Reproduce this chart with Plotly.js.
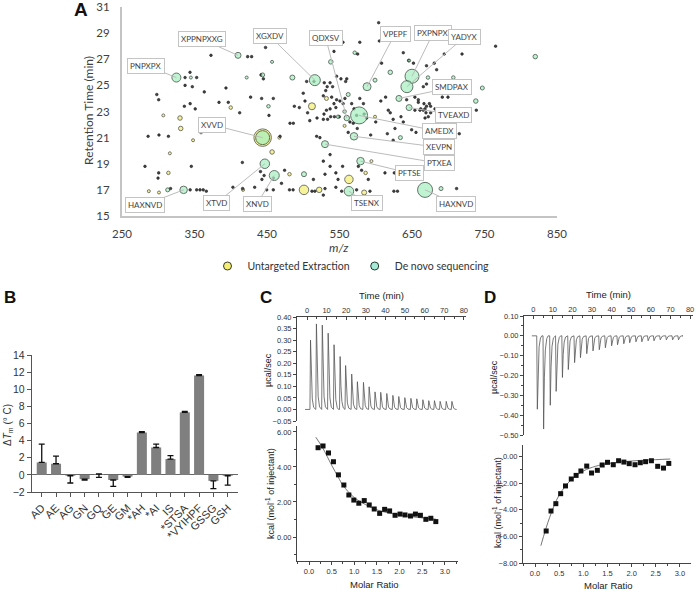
<!DOCTYPE html>
<html>
<head>
<meta charset="utf-8">
<script src="https://cdn.plot.ly/plotly-3.0.1.min.js"></script>
<style>
  html, body { margin: 0; padding: 0; background: #fff; }
  #chart { width: 696px; height: 596px; }
</style>
</head>
<body>
<div id="chart"></div>
<script>
// ---- panel A: retention time vs m/z ----
var untargetedMz = [444, 512, 563, 501, 522, 584, 457, 532, 330, 331, 314, 400, 359, 307, 287, 301, 557, 481, 594, 417, 599, 316, 348, 467, 586];
var untargetedRt = [21.0, 23.4, 17.8, 17.0, 17.0, 16.8, 19.9, 24.0, 22.5, 21.7, 18.3, 23.3, 21.4, 22.7, 16.9, 16.8, 21.9, 18.2, 19.2, 17.0, 22.6, 19.8, 20.8, 21.0, 18.3];
var untargetedSize = [17.5, 7, 8.5, 9.5, 5.5, 5, 4.5, 4, 4.5, 4.5, 3.5, 3.5, 3, 3, 3, 3, 3, 3.5, 3, 3, 3, 3, 3, 3, 3.5];

// the first 19 de novo features carry the sequence tags
var denovoMz = [325, 410, 516, 560, 588, 650, 643, 632, 646, 577, 570, 530, 579, 668, 563, 460, 447, 444, 335,
  485, 538, 571, 620, 599, 501, 562, 634, 820, 747, 738, 690, 313, 444, 452, 548, 672, 707, 646, 422, 457, 345, 557];
var denovoRt = [25.6, 27.3, 25.4, 22.5, 24.9, 25.7, 24.9, 24.0, 23.3, 22.7, 21.1, 20.5, 19.2, 17.0, 16.9, 18.1, 19.0, 21.0, 17.0,
  25.6, 26.8, 27.5, 26.0, 25.4, 18.2, 24.3, 21.0, 27.2, 24.8, 23.8, 17.1, 17.0, 25.8, 23.4, 22.6, 25.6, 25.6, 26.9, 25.6, 26.8, 25.6, 23.0];
var denovoSize = [9, 6, 11, 5.5, 8, 14, 12, 6, 6, 17, 7.5, 7, 7.5, 15, 9.5, 10, 9.5, 14, 7.5,
  5, 4.5, 3.5, 4.5, 4, 5, 4, 4, 4.5, 4, 4.5, 4, 4, 4, 3.5, 3.5, 3.5, 3.5, 3, 3, 3, 3, 3.5];
var tagNames = ['PNPXPX', 'XPPNPXXG', 'XGXDV', 'QDXSV', 'VPEPF', 'PXPNPX', 'YADYX', 'SMDPAX', 'TVEAXD', 'AMEDX',
  'XEVPN', 'PTXEA', 'PFTSE', 'HAXNVD', 'TSENX', 'XNVD', 'XTVD', 'XVVD', 'HAXNVD'];

// low abundance features (tiny dots)
var minorMz = [281.7, 286, 301, 314, 298, 300.6, 336, 344, 351, 337, 347, 363.5, 345.6, 299.7, 372.7, 383.8, 396.6, 412.3, 393.4, 423.3,
  428.8, 448, 441.7, 445, 427.4, 442.6, 458.7, 452.7, 468, 416, 441, 443, 474.3, 481.7, 486.3, 487.7, 494.6, 502.4, 506, 500,
  504.7, 514.8, 518.5, 523, 531, 533, 537, 540.5, 529, 542.4, 554.8, 578, 575, 560, 558.5, 552, 546, 527.7, 539.2, 546,
  550.6, 542.4, 537, 532, 528.6, 537.8, 543, 549.7, 533.6, 527.7, 519, 509, 545, 555, 557.5, 566.8, 570, 573.6, 564.4, 569,
  574.5, 562, 578, 583, 584, 587.4, 593, 600, 604, 605, 608, 613.6, 607, 620, 624, 626.5, 617.3, 624, 638, 645.4,
  652, 658.7, 662, 665.6, 670, 668, 616, 625.6, 631.6, 625, 630, 612.7, 589.7, 592, 573.6, 580.5, 576, 554.3, 545, 537,
  537, 527.7, 530, 527.7, 530, 514, 512, 553, 548, 545, 449.5, 433, 403, 416.4, 458.7, 458.7, 446, 470, 481, 486,
  516, 357.6, 362, 366.3, 353, 344, 317, 300.6, 343.8, 337, 353, 765.3, 719, 694.5, 680.7, 684, 670, 638, 665.6, 670,
  691.8, 699.6, 642.6, 654, 658.7, 666.5, 674, 675.7, 668, 661, 654, 681.7, 675.7, 669.3, 672.5, 634.8, 684, 649.5, 655.5, 715.2,
  711.5, 738.7];
var minorRt = [18.8, 21.1, 21.2, 21.1, 24.3, 23.9, 23.4, 23.6, 23.2, 25.0, 24.9, 24.5, 18.8, 17.9, 27.3, 23.7, 23.7, 22.9, 24.8, 27.2,
  27.2, 27.9, 25.8, 25.5, 24.1, 24.0, 24.0, 22.7, 21.1, 19.1, 18.4, 17.8, 18.5, 22.1, 22.1, 23.4, 23.3, 23.8, 22.9, 24.4,
  25.3, 25.3, 21.1, 21.0, 24.6, 24.9, 25.2, 24.9, 25.2, 27.6, 28.3, 28.3, 27.4, 25.5, 25.3, 25.5, 25.7, 24.2, 24.1, 23.9,
  23.8, 23.6, 23.2, 23.1, 22.8, 22.6, 22.6, 22.6, 22.4, 22.4, 22.5, 22.3, 23.3, 23.6, 24.0, 23.6, 23.2, 22.7, 22.2, 22.1,
  21.7, 21.4, 24.0, 23.6, 22.8, 22.5, 21.2, 22.2, 29.8, 28.4, 26.7, 24.1, 23.8, 22.9, 22.4, 21.7, 23.1, 20.8, 22.2, 26.9,
  26.7, 23.7, 23.2, 23.1, 23.4, 22.5, 21.3, 18.3, 18.3, 16.9, 16.9, 18.3, 17.8, 16.9, 17.0, 18.5, 18.8, 18.8, 18.3, 19.7,
  18.8, 19.2, 17.1, 16.6, 18.2, 17.8, 16.9, 16.9, 17.8, 17.2, 17.0, 17.2, 17.2, 17.1, 17.0, 17.9, 18.1, 17.5, 17.0, 17.0,
  16.9, 17.0, 17.0, 16.9, 17.0, 17.0, 17.1, 18.3, 26.0, 25.6, 25.6, 28.0, 27.4, 27.4, 26.7, 26.2, 26.5, 27.5, 24.9, 25.1,
  24.1, 24.1, 23.9, 24.1, 23.9, 23.6, 23.6, 23.4, 23.2, 23.1, 23.1, 23.2, 22.9, 22.9, 22.6, 22.6, 22.1, 21.6, 21.4, 21.3,
  17.1, 23.1];

// ---- panel B: thermal shift ----
var ligands = ['AD', 'AE', 'AG', 'GN', 'GQ', 'GE', 'GM', '*AH', '*AI', 'IS', '*STSA', '*VYIHPF', 'GSSG', 'GSH'];
var deltaTm = [1.45, 1.3, -0.1, -0.5, 0.1, -0.6, -0.2, 4.95, 3.2, 1.85, 7.3, 11.6, -0.7, -0.1];
var deltaTmErrUp = [2.15, 0.9, 0, 0, 0, 0, 0, 0.1, 0.4, 0.4, 0.1, 0.1, 0, 0];
var deltaTmErrDown = [0, 0, 0.85, 0.1, 0.4, 0.75, 0.1, 0, 0, 0, 0, 0, 0.9, 1.1];

// ---- panel C: ITC, endothermic ----
var cInjTime = [1.5, 4.5, 7.5, 10.5, 13.5, 16.6, 19.4, 22.5, 25.4, 28.5, 31.4, 34.4, 37.3, 40.4, 43.5, 46.5, 49.6, 52.7, 55.7, 58.8, 61.8, 64.7, 67.6, 70.7, 73.6];
var cPeak = [0.30, 0.37, 0.365, 0.33, 0.28, 0.229, 0.19, 0.153, 0.12, 0.117, 0.098, 0.076, 0.074, 0.069, 0.061, 0.056, 0.051, 0.048, 0.046, 0.042, 0.038, 0.038, 0.035, 0.035, 0.035];
var cRatio = [0.20, 0.31, 0.43, 0.54, 0.65, 0.77, 0.88, 0.99, 1.10, 1.22, 1.33, 1.44, 1.56, 1.67, 1.78, 1.90, 2.01, 2.12, 2.24, 2.35, 2.46, 2.58, 2.69, 2.80];
var cHeat = [5.1, 5.2, 4.8, 4.3, 3.55, 2.97, 2.4, 2.11, 1.93, 2.08, 1.83, 1.6, 1.35, 1.58, 1.49, 1.24, 1.31, 1.26, 1.2, 1.31, 1.24, 1.01, 1.07, 0.88];
var cFitRatio = [0.15, 0.3, 0.5, 0.65, 0.75, 1.0, 1.25, 1.5, 1.75, 2.0, 2.4, 2.8];
var cFitHeat = [5.7, 5.1, 4.1, 3.4, 2.95, 2.25, 1.85, 1.55, 1.38, 1.26, 1.12, 1.02];

// ---- panel D: ITC, exothermic ----
var dInjTime = [1.8, 5.0, 8.4, 11.4, 14.6, 17.6, 20.8, 23.8, 27.0, 30.2, 33.4, 36.5, 39.7, 42.7, 45.9, 48.9, 52.1, 55.1, 58.3, 61.3, 64.5, 67.6, 70.8, 73.8];
var dPeak = [-0.37, -0.47, -0.35, -0.28, -0.21, -0.17, -0.135, -0.11, -0.09, -0.076, -0.07, -0.06, -0.05, -0.045, -0.04, -0.035, -0.03, -0.03, -0.025, -0.025, -0.02, -0.02, -0.02, -0.02];
var dRatio = [0.23, 0.33, 0.43, 0.53, 0.63, 0.75, 0.85, 0.95, 1.07, 1.17, 1.29, 1.39, 1.5, 1.62, 1.73, 1.84, 1.95, 2.07, 2.18, 2.29, 2.41, 2.54, 2.66, 2.77];
var dHeat = [-5.6, -4.1, -3.55, -2.8, -2.22, -1.7, -1.43, -1.1, -0.73, -1.25, -1.05, -0.65, -0.45, -0.63, -0.33, -0.43, -0.55, -0.63, -0.48, -0.4, -0.33, -0.75, -0.88, -0.53];
var dFitRatio = [0.12, 0.3, 0.5, 0.75, 1.0, 1.25, 1.5, 2.0, 2.5, 2.8];
var dFitHeat = [-6.7, -4.6, -2.9, -1.75, -1.1, -0.75, -0.55, -0.35, -0.25, -0.2];

// label box offsets (px) from each tagged bubble
var tagDx = [-30, -36, -45, -21, 28, 21, 58, 53, 44, 80, 85, 114, 49, 31, 18, -17, -48, -51, -39];
var tagDy = [-12, -16, -44, -80, -53, -43, -50, -11, 7, 16, 11, 19, 12, 14, 12, 28, 39, -13, 15];

var W = 696, H = 596;
function px(x) { return x / W; }
function py(y) { return 1 - y / H; }

var fontA = 'Lato, "Open Sans", sans-serif';
var fontB = '"Liberation Sans", Arial, sans-serif';

// injection spikes: baseline, peak, decay back to baseline
function thermogram(times, peaks, tEnd) {
  var x = [times[0] - 2.5], y = [0];
  for (var i = 0; i < times.length; i++) {
    var t = times[i], h = peaks[i];
    x.push(t, t + 0.3, t + 0.7, t + 1.2, t + 1.9, t + 2.6);
    y.push(0, h, h * 0.45, h * 0.15, h * 0.03, 0);
  }
  x.push(tEnd); y.push(0);
  return {x: x, y: y};
}
var cTrace = thermogram(cInjTime, cPeak, 76);
var dTrace = thermogram(dInjTime, dPeak, 76);

var traces = [
  {
    x: untargetedMz, y: untargetedRt, type: 'scatter', mode: 'markers', showlegend: false,
    xaxis: 'x', yaxis: 'y',
    marker: {size: untargetedSize, sizemode: 'diameter', color: '#f4ee72', line: {color: '#3a3a2a', width: 1}}
  },
  {
    x: minorMz, y: minorRt, type: 'scatter', mode: 'markers', showlegend: false,
    xaxis: 'x', yaxis: 'y',
    marker: {size: 2.6, color: '#444', line: {color: '#1a1a1a', width: 0.6}}
  },
  {
    x: denovoMz, y: denovoRt, type: 'scatter', mode: 'markers', showlegend: false,
    xaxis: 'x', yaxis: 'y',
    marker: {size: denovoSize, sizemode: 'diameter', color: '#a4efbe', line: {color: '#243a2c', width: 1}}
  },
  // legend entries only
  {
    x: [null], y: [null], type: 'scatter', mode: 'markers', name: 'Untargeted Extraction', xaxis: 'x', yaxis: 'y',
    marker: {size: 8, color: '#f4ee72', line: {color: '#3a3a2a', width: 1}}
  },
  {
    x: [null], y: [null], type: 'scatter', mode: 'markers', name: 'De novo sequencing', xaxis: 'x', yaxis: 'y',
    marker: {size: 8, color: '#a6e9d6', line: {color: '#243a2c', width: 1}}
  },
  {
    x: ligands, y: deltaTm, type: 'bar', xaxis: 'x2', yaxis: 'y2', showlegend: false,
    marker: {color: '#7f7f7f'},
    error_y: {type: 'data', symmetric: false, array: deltaTmErrUp, arrayminus: deltaTmErrDown,
      color: '#111', thickness: 1.3, width: 3}
  },
  {
    x: cTrace.x, y: cTrace.y, type: 'scatter', mode: 'lines', xaxis: 'x3', yaxis: 'y3', showlegend: false,
    line: {color: '#555', width: 0.8}
  },
  {
    x: cFitRatio, y: cFitHeat, type: 'scatter', mode: 'lines', xaxis: 'x4', yaxis: 'y4', showlegend: false,
    line: {color: '#666', width: 0.9, shape: 'spline'}
  },
  {
    x: cRatio, y: cHeat, type: 'scatter', mode: 'markers', xaxis: 'x4', yaxis: 'y4', showlegend: false,
    marker: {symbol: 'square', size: 5, color: '#111'}
  },
  {
    x: dTrace.x, y: dTrace.y, type: 'scatter', mode: 'lines', xaxis: 'x5', yaxis: 'y5', showlegend: false,
    line: {color: '#555', width: 0.8}
  },
  {
    x: dFitRatio, y: dFitHeat, type: 'scatter', mode: 'lines', xaxis: 'x6', yaxis: 'y6', showlegend: false,
    line: {color: '#666', width: 0.9, shape: 'spline'}
  },
  {
    x: dRatio, y: dHeat, type: 'scatter', mode: 'markers', xaxis: 'x6', yaxis: 'y6', showlegend: false,
    marker: {symbol: 'square', size: 5, color: '#111'}
  }
];

var itcTick = {family: fontB, size: 7.5, color: '#333'};
function itcAxis(extra) {
  var base = {showgrid: false, zeroline: false, showline: true, linecolor: '#444', linewidth: 1,
    ticks: 'outside', ticklen: 3, tickcolor: '#444', tickfont: itcTick};
  for (var k in extra) base[k] = extra[k];
  return base;
}

var annotations = [];
for (var i = 0; i < tagNames.length; i++) {
  annotations.push({
    x: denovoMz[i], y: denovoRt[i], xref: 'x', yref: 'y', text: tagNames[i],
    showarrow: true, arrowhead: 0, arrowwidth: 1, arrowcolor: '#bcbcbc', standoff: 0,
    ax: tagDx[i], ay: tagDy[i],
    font: {family: fontA, size: 8, color: '#444'},
    bgcolor: '#fff', bordercolor: '#c4c4c4', borderwidth: 1, borderpad: 2
  });
}

function txt(x, y, text, size, opts) {
  var a = {x: px(x), y: py(y), xref: 'paper', yref: 'paper', text: text, showarrow: false,
    xanchor: 'center', yanchor: 'middle', font: {family: fontB, size: size, color: '#222'}};
  for (var k in opts) a[k] = opts[k];
  return a;
}

annotations.push(
  txt(81, 9, '<b>A</b>', 19, {font: {family: fontB, size: 19, color: '#111'}}),
  txt(88, 111, 'Retention Time (min)', 12, {textangle: -90, font: {family: fontA, size: 12, color: '#404040'}}),
  txt(339, 247, '<i>m/z</i>', 12, {font: {family: fontA, size: 12, color: '#404040'}}),
  txt(10, 297, '<b>B</b>', 17, {font: {family: fontB, size: 17, color: '#111'}}),
  txt(8, 425, 'Δ<i>T</i><sub>m</sub> (° C)', 10, {textangle: -90, font: {family: fontB, size: 10, color: '#333'}}),
  txt(266, 297, '<b>C</b>', 17, {font: {family: fontB, size: 17, color: '#111'}}),
  txt(381, 296, 'Time (min)', 9.5),
  txt(268, 370, 'µcal/sec', 9, {textangle: -90}),
  txt(270, 494, 'kcal (mol<sup>-1</sup> of injectant)', 9, {textangle: -90}),
  txt(374, 584, 'Molar Ratio', 9.5),
  txt(490, 297, '<b>D</b>', 17, {font: {family: fontB, size: 17, color: '#111'}}),
  txt(608, 295, 'Time (min)', 9.5),
  txt(494, 377, 'µcal/sec', 9, {textangle: -90}),
  txt(497, 503, 'kcal (mol<sup>-1</sup> of injectant)', 9, {textangle: -90}),
  txt(608, 585, 'Molar Ratio', 9.5)
);

var layout = {
  width: W, height: H,
  margin: {l: 0, r: 0, t: 0, b: 0},
  paper_bgcolor: '#fff', plot_bgcolor: 'rgba(0,0,0,0)',
  font: {family: fontB, color: '#333'},
  showlegend: true,
  legend: {
    orientation: 'h', x: px(351), y: py(266), xanchor: 'center', yanchor: 'middle',
    font: {family: fontA, size: 10.5, color: '#333'}, itemwidth: 30, bgcolor: 'rgba(0,0,0,0)',
    traceorder: 'normal'
  },
  bargap: 0.3,
  xaxis: {
    domain: [px(122), px(557)], anchor: 'y', range: [250, 850], tick0: 250, dtick: 100,
    showgrid: false, zeroline: false, showline: true, linecolor: '#c4c4c4', linewidth: 2,
    ticks: '', ticklabelstandoff: 6, tickfont: {family: fontA, size: 11.5, color: '#404040'}
  },
  yaxis: {
    domain: [py(216), py(7)], anchor: 'x', range: [15, 31], tick0: 15, dtick: 2,
    showgrid: false, zeroline: false, showline: true, linecolor: '#c4c4c4', linewidth: 2,
    ticks: '', ticklabelstandoff: 8, tickfont: {family: fontA, size: 11.5, color: '#404040'}
  },
  xaxis2: {
    domain: [px(32), px(238)], anchor: 'y2', type: 'category', range: [-0.68, 13.72],
    showgrid: false, zeroline: false, showline: true, linecolor: '#555', linewidth: 1.2,
    ticks: 'outside', ticklen: 4, tickcolor: '#555', tickangle: -45,
    tickfont: {family: fontB, size: 11, color: '#333'}
  },
  yaxis2: {
    domain: [py(492), py(355)], anchor: 'x2', range: [-2, 14], dtick: 2,
    showgrid: false, zeroline: true, zerolinecolor: '#666', zerolinewidth: 1.2,
    showline: true, linecolor: '#555', linewidth: 1.2,
    ticks: 'outside', ticklen: 4, tickcolor: '#555',
    tickfont: {family: fontB, size: 10.5, color: '#333'}
  },
  xaxis3: itcAxis({domain: [px(297), px(466)], anchor: 'y3', side: 'top', range: [-5.1, 81.1], dtick: 10, tick0: 0,
    ticks: 'inside', minor: {dtick: 5, ticks: 'inside', ticklen: 2, tickcolor: '#444'}}),
  yaxis3: itcAxis({domain: [py(421), py(317)], anchor: 'x3', range: [-0.05, 0.40], dtick: 0.05, tick0: 0, tickformat: '.2f'}),
  xaxis4: itcAxis({domain: [px(297), px(458)], anchor: 'y4', range: [-0.265, 3.29], dtick: 0.5, tick0: 0, tickformat: '.1f',
    minor: {dtick: 0.25, ticks: 'outside', ticklen: 2, tickcolor: '#444'}}),
  yaxis4: itcAxis({domain: [py(561), py(426)], anchor: 'x4', range: [-1.37, 6.34], dtick: 2, tick0: 0, tickformat: '.2f',
    minor: {dtick: 1, ticks: 'outside', ticklen: 2, tickcolor: '#444'}}),
  xaxis5: itcAxis({domain: [px(524), px(693)], anchor: 'y5', side: 'top', range: [-4.7, 81.5], dtick: 10, tick0: 0,
    ticks: 'inside', minor: {dtick: 5, ticks: 'inside', ticklen: 2, tickcolor: '#444'}}),
  yaxis5: itcAxis({domain: [py(435), py(316)], anchor: 'x5', range: [-0.5, 0.1], dtick: 0.1, tick0: 0, tickformat: '.2f',
    minor: {dtick: 0.05, ticks: 'outside', ticklen: 2, tickcolor: '#444'}}),
  xaxis6: itcAxis({domain: [px(523), px(691)], anchor: 'y6', range: [-0.25, 3.23], dtick: 0.5, tick0: 0, tickformat: '.1f',
    minor: {dtick: 0.25, ticks: 'outside', ticklen: 2, tickcolor: '#444'}}),
  yaxis6: itcAxis({domain: [py(563), py(445)], anchor: 'x6', range: [-8, 0.85], dtick: 2, tick0: 0, tickformat: '.2f',
    minor: {dtick: 1, ticks: 'outside', ticklen: 2, tickcolor: '#444'}}),
  annotations: annotations
};

Plotly.newPlot('chart', traces, layout, {displayModeBar: false, staticPlot: true});
</script>
</body>
</html>
